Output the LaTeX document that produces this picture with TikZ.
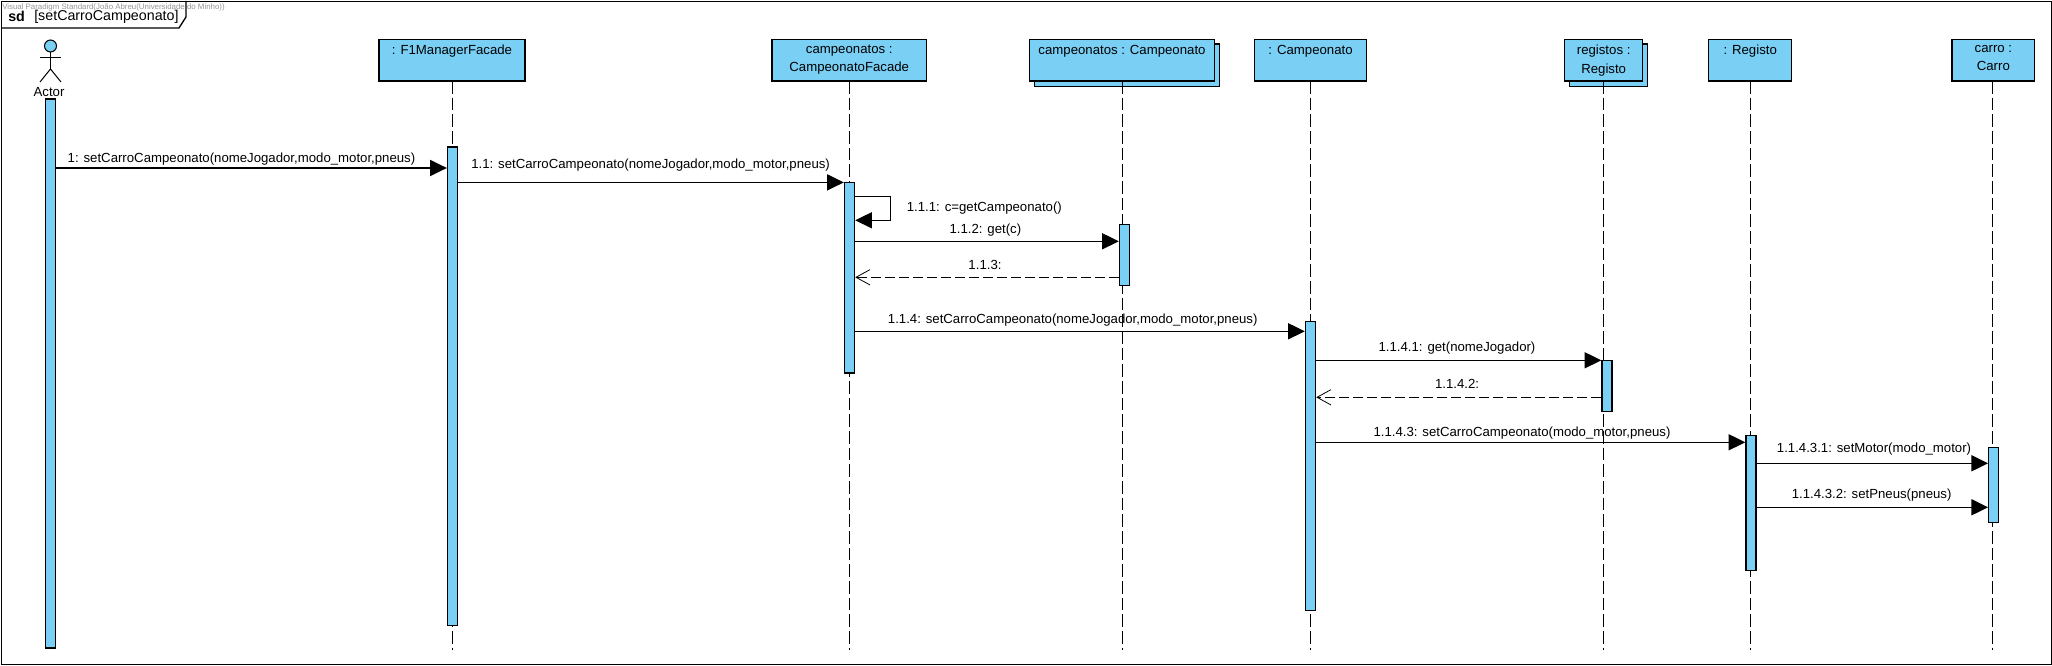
\documentclass[tikz,border=0pt]{standalone}
\usepackage{fontspec}
\setmainfont{Liberation Sans}
\usepackage{xcolor}
\usetikzlibrary{arrows.meta,calc}
\definecolor{vpblue}{RGB}{122,207,245}
\definecolor{vpgray}{RGB}{150,150,150}

\begin{document}
\begin{tikzpicture}[
  x=0.75pt,y=-0.75pt,
  every node/.style={font=\fontsize{9.9}{13.7}\selectfont},
  lifebox/.style={draw=black,fill=vpblue,line width=1pt,inner sep=0pt},
  lifetext/.style={anchor=north,align=center,inner sep=0pt,yshift=-4.7pt},
  actbar/.style={draw=black,fill=vpblue,line width=1pt,inner sep=0pt,minimum width=7.5pt},
  lifeline/.style={line width=0.75pt,dash pattern=on 9.5pt off 3pt},
  msg/.style={line width=1pt,-{Triangle[length=12.5pt,width=12pt]}},
  reply/.style={line width=0.75pt,dash pattern=on 7.5pt off 3pt,
                -{Straight Barb[length=10.5pt,width=11.5pt,line width=0.6pt]}},
  msgtext/.style={inner sep=0pt,text height=7.2pt,text depth=2pt,yshift=-1.5pt},
]

\useasboundingbox (0,0) rectangle (2052,666);

%% Frame and title tab
\node[draw=black,line width=1pt,inner sep=0pt,minimum width=1537.5pt,minimum height=497.2pt,
      anchor=north west] (frame) at (1,1) {};
\coordinate (tabA) at (186,1);
\coordinate (tabB) at (186,17);
\coordinate (tabC) at (179,28);
\coordinate (tabD) at (1,28);
\draw[line width=1pt] (tabA) -- (tabB) -- (tabC) -- (tabD);
\node[anchor=west,inner sep=0pt,font=\fontsize{10.7}{13}\selectfont\bfseries] (sdtag) at (8,16.5) {sd};
\node[anchor=west,inner sep=0pt,font=\fontsize{10.7}{13}\selectfont] (sdname) at (34,16.5) {[setCarroCampeonato]};

%% Back boxes of the multi objects
\foreach \n/\xa/\xb in {backA/1034.4/1219.6, backB/1569.6/1647.5}{
  \node[lifebox,minimum width={(\xb-\xa)*0.75pt},minimum height=32pt]
    (\n) at ({(\xa+\xb)/2},65.3) {};
}

%% Lifeline heads
\foreach \n/\xa/\xb/\x/\txt in {
  f1/379/525/452/{: F1ManagerFacade},
  facade/772/926.5/849.5/{campeonatos :\\CampeonatoFacade},
  camps/1029.4/1214.6/1122.4/{campeonatos : Campeonato},
  camp/1254.4/1366.7/1310.5/{: Campeonato},
  regs/1564.7/1642.6/1603.6/{registos :\\Registo},
  reg/1708.6/1791.8/1750/{: Registo},
  carro/1952/2034.7/1992.8/{carro :\\Carro}%
}{
  \coordinate (end\n) at (\x,650);
  \coordinate (top\n) at (\x,81);
  \draw[lifeline] (top\n) -- (end\n);
  \node[lifebox,minimum width={(\xb-\xa)*0.75pt},minimum height=31.3pt]
    (b\n) at ({(\xa+\xb)/2},60.2) {};
  \node[lifetext] (t\n) at (b\n.north) {\txt};
}

%% Actor
\node[draw=black,fill=vpblue,line width=0.75pt,circle,inner sep=0pt,minimum size=9pt] (head) at (50.5,46) {};
\coordinate (hip) at (50.5,69);
\coordinate (armL) at (40,58);
\coordinate (armR) at (61,58);
\coordinate (legL) at (40,82);
\coordinate (legR) at (61,82);
\draw[line width=0.75pt] (head.south) -- (hip);
\draw[line width=0.75pt] (armL) -- (armR);
\draw[line width=0.75pt] (legL) -- (hip) -- (legR);
\node[inner sep=0pt] (actorname) at (49,92) {Actor};

%% Activation bars
\foreach \n/\x/\t/\b in {
  actor/50.5/99/648,
  f1/452.5/147/625.7,
  facade/849.5/182.7/373,
  camps/1124.5/224.3/285.3,
  camp/1310.5/321.3/610.3,
  regs/1607/360.3/411.3,
  reg/1751/435.3/570.3,
  carro/1993.8/447.3/522.3%
}{
  \node[actbar,minimum height={(\b-\t)*0.75pt}] (a\n) at (\x,{(\t+\b)/2}) {};
}

%% Messages
\foreach \i/\src/\tgt/\y/\lx/\ly/\sty/\txt in {
  1/aactor.east/af1.west/168/241.5/157/msg/{1: setCarroCampeonato(nomeJogador,modo\_motor,pneus)},
  2/af1.east/afacade.west/182.4/650.6/163/msg/{1.1: setCarroCampeonato(nomeJogador,modo\_motor,pneus)},
  3/afacade.east/acamps.west/241.3/985.4/227.7/msg/{1.1.2: get(c)},
  4/acamps.west/afacade.east/277.3/985/263.7/reply/{1.1.3:},
  5/afacade.east/acamp.west/331.3/1072.7/318.5/msg/{1.1.4: setCarroCampeonato(nomeJogador,modo\_motor,pneus)},
  6/acamp.east/aregs.west/360.3/1457/345.7/msg/{1.1.4.1: get(nomeJogador)},
  7/aregs.west/acamp.east/397.3/1457/383.3/reply/{1.1.4.2:},
  8/acamp.east/areg.west/442.3/1522/431.5/msg/{1.1.4.3: setCarroCampeonato(modo\_motor,pneus)},
  9/areg.east/acarro.west/463.3/1874/447/msg/{1.1.4.3.1: setMotor(modo\_motor)},
  10/areg.east/acarro.west/507.3/1871.6/492.7/msg/{1.1.4.3.2: setPneus(pneus)}%
}{
  \coordinate (m\i) at (0,\y);
  \draw[\sty] (\src |- m\i) -- (\tgt |- m\i);
  \node[msgtext] (l\i) at (\lx,\ly) {\txt};
}

%% Self message on the facade
\coordinate (selfA) at (0,196.3);
\coordinate (selfB) at (0,220.3);
\coordinate (selfX) at (890.5,0);
\draw[msg] (afacade.east |- selfA) -- (selfX |- selfA) -- (selfX |- selfB) -- (afacade.east |- selfB);
\node[msgtext,anchor=west] (lself) at (906.6,205.7) {1.1.1: c=getCampeonato()};

%% Watermark
\node[anchor=west,inner sep=0pt,text=vpgray,font=\fontsize{5.9}{7}\selectfont] (mark) at (2,7.5)
  {Visual Paradigm Standard(João Abreu(Universidade do Minho))};

\end{tikzpicture}
\end{document}
